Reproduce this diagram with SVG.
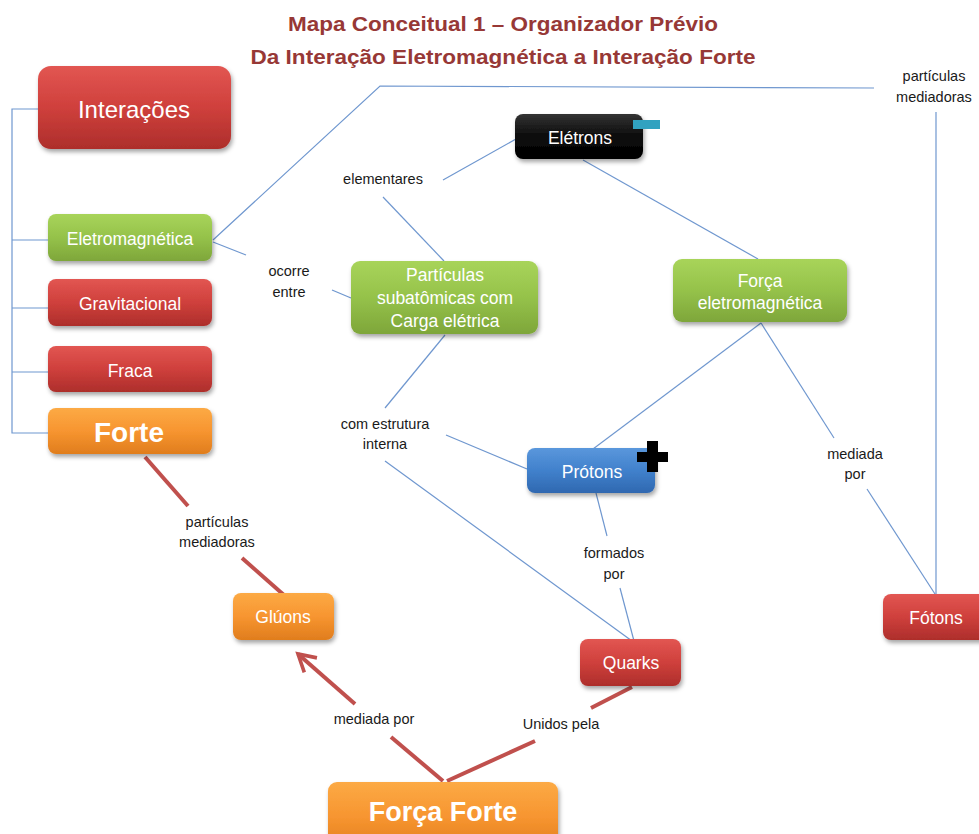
<svg xmlns="http://www.w3.org/2000/svg" width="979" height="834" viewBox="0 0 979 834">
<defs>
<linearGradient id="gRed" x1="0" y1="0" x2="0" y2="1"><stop offset="0" stop-color="#e25652"/><stop offset="0.5" stop-color="#cf403c"/><stop offset="1" stop-color="#ad2e2b"/></linearGradient>
<linearGradient id="gGreen" x1="0" y1="0" x2="0" y2="1"><stop offset="0" stop-color="#a8d45a"/><stop offset="0.5" stop-color="#95c24a"/><stop offset="1" stop-color="#7ea63a"/></linearGradient>
<linearGradient id="gOrange" x1="0" y1="0" x2="0" y2="1"><stop offset="0" stop-color="#fcaa45"/><stop offset="0.5" stop-color="#f79530"/><stop offset="1" stop-color="#e07d1d"/></linearGradient>
<linearGradient id="gBlue" x1="0" y1="0" x2="0" y2="1"><stop offset="0" stop-color="#5a97dc"/><stop offset="0.5" stop-color="#4181cc"/><stop offset="1" stop-color="#2f68b0"/></linearGradient>
<linearGradient id="gBlack" x1="0" y1="0" x2="0" y2="1"><stop offset="0" stop-color="#333"/><stop offset="0.5" stop-color="#0c0c0c"/><stop offset="1" stop-color="#000"/></linearGradient>
<filter id="sh" x="-20%" y="-20%" width="140%" height="150%"><feDropShadow dx="1.5" dy="3" stdDeviation="2" flood-color="#000" flood-opacity="0.35"/></filter>
<marker id="arr" viewBox="0 0 20 20" refX="17" refY="10" markerWidth="6" markerHeight="6" markerUnits="strokeWidth" orient="auto"><path d="M3,2 L17,10 L3,18" fill="none" stroke="#c0504d" stroke-width="3"/></marker>
<style>
.nt{font-family:"Liberation Sans",Arial,sans-serif;fill:#fff;text-anchor:middle;font-size:17.5px}
.lb{font-family:"Liberation Sans",Arial,sans-serif;fill:#1a1a1a;font-size:14.5px;text-anchor:middle}
.bl{stroke:#6f97cf;stroke-width:1.2;fill:none}
.rd{stroke:#c0504d;stroke-width:4;fill:none}
.ttl{font-family:"Liberation Sans",Arial,sans-serif;font-weight:bold;fill:#973836;font-size:21px;text-anchor:middle}
</style>
</defs>
<rect width="979" height="834" fill="#fff"/>
<g id="title">
<text class="ttl" x="503" y="31" textLength="430" lengthAdjust="spacingAndGlyphs">Mapa Conceitual 1 – Organizador Prévio</text>
<text class="ttl" x="503" y="64" textLength="505" lengthAdjust="spacingAndGlyphs">Da Interação Eletromagnética a Interação Forte</text>
</g>
<g id="connectors">
<polyline class="bl" points="38,109 12,109 12,433 48,433"/>
<line class="bl" x1="12" y1="240" x2="48" y2="240"/>
<line class="bl" x1="12" y1="308" x2="48" y2="308"/>
<line class="bl" x1="12" y1="372" x2="48" y2="372"/>
<polyline class="bl" points="213,240 380,86 874,88"/>
<line class="bl" x1="936" y1="112" x2="936" y2="594"/>
<line class="bl" x1="213" y1="242" x2="246" y2="255"/>
<line class="bl" x1="332" y1="290" x2="351" y2="298"/>
<line class="bl" x1="443" y1="180" x2="516" y2="139"/>
<line class="bl" x1="383" y1="197" x2="444" y2="261"/>
<line class="bl" x1="583" y1="160" x2="758" y2="259"/>
<line class="bl" x1="445" y1="335" x2="385" y2="408"/>
<line class="bl" x1="446" y1="435" x2="527" y2="469"/>
<line class="bl" x1="385" y1="461" x2="632" y2="641"/>
<line class="bl" x1="761" y1="323" x2="593" y2="449"/>
<line class="bl" x1="761" y1="323" x2="834" y2="438"/>
<line class="bl" x1="867" y1="489" x2="935" y2="594"/>
<line class="bl" x1="596" y1="493" x2="607" y2="536"/>
<line class="bl" x1="620" y1="588" x2="634" y2="641"/>
<line class="rd" x1="145" y1="457" x2="188" y2="506"/>
<line class="rd" x1="242" y1="558" x2="285" y2="596"/>
<line class="rd" x1="443" y1="781" x2="391" y2="737"/>
<line class="rd" x1="355" y1="704" x2="298" y2="654" marker-end="url(#arr)"/>
<line class="rd" x1="447" y1="781" x2="535" y2="741"/>
<line class="rd" x1="591" y1="708" x2="632" y2="687"/>
<text class="lb" x="934" y="81">partículas</text>
<text class="lb" x="934" y="102">mediadoras</text>
<text class="lb" x="289" y="276">ocorre</text>
<text class="lb" x="289" y="297">entre</text>
<text class="lb" x="383" y="184">elementares</text>
<text class="lb" x="385" y="429">com estrutura</text>
<text class="lb" x="385" y="449">interna</text>
<text class="lb" x="855" y="459">mediada</text>
<text class="lb" x="855" y="479">por</text>
<text class="lb" x="614" y="558">formados</text>
<text class="lb" x="614" y="579">por</text>
<text class="lb" x="217" y="527">partículas</text>
<text class="lb" x="217" y="547">mediadoras</text>
<text class="lb" x="374" y="724">mediada por</text>
<text class="lb" x="561" y="729">Unidos pela</text>
</g>
<g id="interacoes"><rect x="38" y="66" width="193" height="83" rx="13" fill="url(#gRed)" filter="url(#sh)"/><text class="nt" x="134" y="118" style="font-size:24px">Interações</text></g>
<g id="eletromagnetica"><rect x="48" y="214" width="164" height="47" rx="8" fill="url(#gGreen)" filter="url(#sh)"/><text class="nt" x="130" y="245">Eletromagnética</text></g>
<g id="gravitacional"><rect x="48" y="279" width="164" height="47" rx="8" fill="url(#gRed)" filter="url(#sh)"/><text class="nt" x="130" y="310">Gravitacional</text></g>
<g id="fraca"><rect x="48" y="346" width="164" height="46" rx="8" fill="url(#gRed)" filter="url(#sh)"/><text class="nt" x="130" y="377">Fraca</text></g>
<g id="forte"><rect x="48" y="408" width="164" height="46" rx="8" fill="url(#gOrange)" filter="url(#sh)"/><text class="nt" x="129" y="442" style="font-size:28px;font-weight:bold">Forte</text></g>
<g id="eletrons"><rect x="515" y="114" width="128" height="45" rx="8" fill="url(#gBlack)" filter="url(#sh)"/><rect x="633" y="120" width="27" height="9" fill="#31a2c0"/><text class="nt" x="580" y="144">Elétrons</text></g>
<g id="particulas"><rect x="351" y="261" width="187" height="73" rx="9" fill="url(#gGreen)" filter="url(#sh)"/><text class="nt" x="445" y="281">Partículas</text><text class="nt" x="445" y="304">subatômicas com</text><text class="nt" x="445" y="327">Carga elétrica</text></g>
<g id="forca-em"><rect x="673" y="259" width="174" height="63" rx="9" fill="url(#gGreen)" filter="url(#sh)"/><text class="nt" x="760" y="287">Força</text><text class="nt" x="760" y="309">eletromagnética</text></g>
<g id="protons"><rect x="527" y="448" width="128" height="45" rx="8" fill="url(#gBlue)" filter="url(#sh)"/><text class="nt" x="592" y="478">Prótons</text><path d="M647,441 h11 v11 h10 v10 h-10 v10 h-11 v-10 h-10 v-10 h10 z" fill="#000"/></g>
<g id="gluons"><rect x="233" y="593" width="101" height="47" rx="8" fill="url(#gOrange)" filter="url(#sh)"/><text class="nt" x="283" y="623">Glúons</text></g>
<g id="quarks"><rect x="580" y="639" width="101" height="47" rx="8" fill="url(#gRed)" filter="url(#sh)"/><text class="nt" x="631" y="669">Quarks</text></g>
<g id="fotons"><rect x="883" y="594" width="110" height="46" rx="8" fill="url(#gRed)" filter="url(#sh)"/><text class="nt" x="936" y="624">Fótons</text></g>
<g id="forca-forte"><rect x="328" y="782" width="230" height="70" rx="9" fill="url(#gOrange)" filter="url(#sh)"/><text class="nt" x="443" y="821" style="font-size:27px;font-weight:bold">Força Forte</text></g>
</svg>
